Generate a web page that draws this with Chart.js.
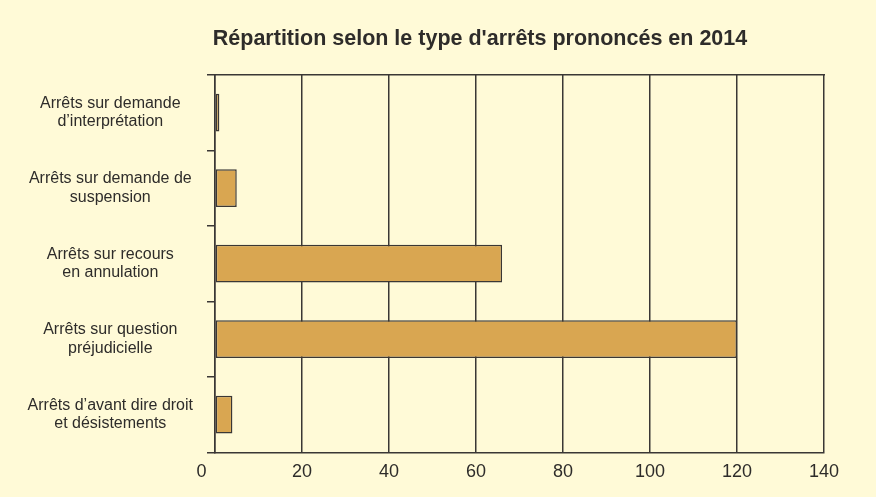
<!DOCTYPE html>
<html>
<head>
<meta charset="utf-8">
<script src="https://cdn.jsdelivr.net/npm/chart.js@4"></script>
<style>
    html, body { margin: 0; padding: 0; background: #fffad7; }
    #wrap { width: 876px; height: 497px; }
</style>
</head>
<body>
<div id="wrap"><canvas id="myChart" width="876" height="497"></canvas></div>
<script>
const categories = [
    ["Arrêts sur demande", "d\u2019interprétation"],
    ["Arrêts sur demande de", "suspension"],
    ["Arrêts sur recours", "en annulation"],
    ["Arrêts sur question", "préjudicielle"],
    ["Arrêts d\u2019avant dire droit", "et désistements"]
];
const values = [1, 5, 66, 120, 4];
const xTicks = [0, 20, 40, 60, 80, 100, 120, 140];

const lineColor = '#3a3735';
const textColor = '#2e2c2a';

// the title sits a bit right of the canvas centre in the original
const shiftTitle = {
    id: 'shiftTitle',
    afterLayout(chart) {
        if (chart.titleBlock) chart.titleBlock.left += 136;
    }
};

const ctx = document.getElementById('myChart');

new Chart(ctx.getContext('2d'), {
    type: 'bar',
    data: {
        labels: categories,
        datasets: [{
            data: values,
            backgroundColor: '#d9a651',
            borderColor: lineColor,
            borderWidth: 1.5,
            borderSkipped: false,
            categoryPercentage: 0.5,
            barPercentage: 1
        }]
    },
    plugins: [shiftTitle],
    options: {
        indexAxis: 'y',
        responsive: false,
        animation: false,
        layout: {
            padding: { left: 0, right: 52, top: 0, bottom: 5 }
        },
        plugins: {
            legend: { display: false },
            tooltip: { enabled: false },
            title: {
                display: true,
                text: "Répartition selon le type d'arrêts prononcés en 2014",
                color: textColor,
                font: { family: 'Liberation Sans, Arial, sans-serif', size: 21.5, weight: 'bold' },
                padding: { top: 26, bottom: 15 }
            }
        },
        scales: {
            x: {
                min: 0,
                max: 140,
                afterBuildTicks: axis => {
                    axis.ticks = xTicks.map(v => ({ value: v }));
                },
                grid: {
                    color: lineColor,
                    lineWidth: 1.5,
                    drawTicks: false
                },
                border: { color: lineColor, width: 1.5 },
                ticks: {
                    color: textColor,
                    padding: 9,
                    // the "0" is set a little left of the axis in the original
                    callback: v => v === 0 ? '0\u2002\u2002\u2002' : v,
                    font: { family: 'Liberation Sans, Arial, sans-serif', size: 18 }
                }
            },
            top: {
                position: 'top',
                min: 0,
                max: 1,
                grid: { display: false },
                ticks: { display: false },
                border: { color: lineColor, width: 1.5 }
            },
            y: {
                afterFit: axis => { axis.width = 215; },
                grid: {
                    drawOnChartArea: false,
                    color: lineColor,
                    lineWidth: 1.5,
                    tickLength: 8
                },
                border: { color: lineColor, width: 1.5 },
                ticks: {
                    color: textColor,
                    crossAlign: 'center',
                    padding: 14,
                    font: { family: 'Liberation Sans, Arial, sans-serif', size: 16, lineHeight: 1.15 }
                }
            }
        }
    }
});
</script>
</body>
</html>
